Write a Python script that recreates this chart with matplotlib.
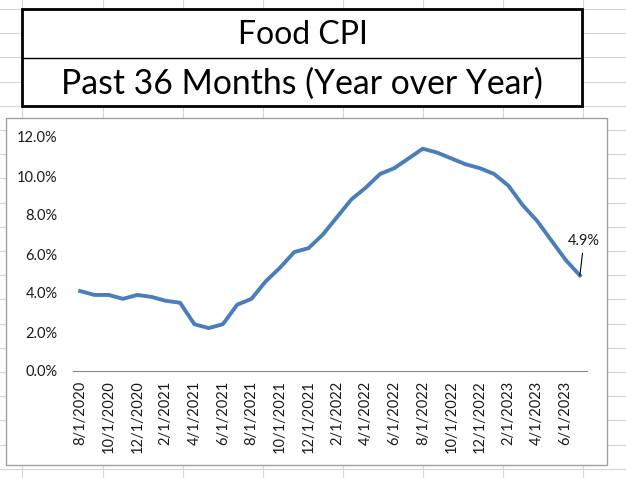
import matplotlib.pyplot as plt
from matplotlib.lines import Line2D
from matplotlib.patches import Rectangle
from matplotlib.ticker import FuncFormatter, MultipleLocator

W, H = 626, 478

months = [
    "8/1/2020", "9/1/2020", "10/1/2020", "11/1/2020", "12/1/2020",
    "1/1/2021", "2/1/2021", "3/1/2021", "4/1/2021", "5/1/2021", "6/1/2021",
    "7/1/2021", "8/1/2021", "9/1/2021", "10/1/2021", "11/1/2021", "12/1/2021",
    "1/1/2022", "2/1/2022", "3/1/2022", "4/1/2022", "5/1/2022", "6/1/2022",
    "7/1/2022", "8/1/2022", "9/1/2022", "10/1/2022", "11/1/2022", "12/1/2022",
    "1/1/2023", "2/1/2023", "3/1/2023", "4/1/2023", "5/1/2023", "6/1/2023",
    "7/1/2023",
]
food_cpi = [
    4.1, 3.9, 3.9, 3.7, 3.9,
    3.8, 3.6, 3.5, 2.4, 2.2, 2.4,
    3.4, 3.7, 4.6, 5.3, 6.1, 6.3,
    7.0, 7.9, 8.8, 9.4, 10.1, 10.4,
    10.9, 11.4, 11.2, 10.9, 10.6, 10.4,
    10.1, 9.5, 8.5, 7.7, 6.7, 5.7,
    4.9,
]
title_1 = "Food CPI"
title_2 = "Past 36 Months (Year over Year)"

FONT = "Lato"


def fx(x):
    return x / W


def fy(y):
    return 1 - y / H


fig = plt.figure(figsize=(W / 100, H / 100), dpi=100)
fig.patch.set_facecolor("white")

# spreadsheet grid behind everything
for x in [22, 103, 183, 263, 343, 423, 503, 583]:
    fig.add_artist(Line2D([fx(x), fx(x)], [0, 1], color="#d6d6d6", lw=0.8, zorder=0))
y = 9.0
while y < H:
    fig.add_artist(Line2D([0, 1], [fy(y), fy(y)], color="#d6d6d6", lw=0.8, zorder=0))
    y += 24.2

# title box (merged cells)
fig.add_artist(Rectangle((fx(22), fy(106)), fx(582) - fx(22), fy(9) - fy(106),
                         facecolor="white", edgecolor="black", lw=2.0, zorder=1))
fig.add_artist(Line2D([fx(22), fx(582)], [fy(57.5), fy(57.5)], color="black", lw=1.0, zorder=2))
fig.text(fx(303), fy(35), title_1, ha="center", va="center", fontsize=23, family=FONT, zorder=3)
fig.text(fx(302), fy(84), title_2, ha="center", va="center", fontsize=24.3, family=FONT, zorder=3)

# chart area
fig.add_artist(Rectangle((fx(6), fy(465)), fx(607) - fx(6), fy(118) - fy(465),
                         facecolor="white", edgecolor="#a0a0a0", lw=1.0, zorder=1))

ax = fig.add_axes([fx(73), fy(371), fx(587) - fx(73), fy(137) - fy(371)], zorder=2)
ax.patch.set_visible(False)
xs = list(range(len(food_cpi)))
ax.plot(xs, food_cpi, color="#4a7ebb", lw=2.8, solid_joinstyle="round")
ax.set_xlim(-0.5, len(food_cpi) - 0.5)
ax.set_ylim(0, 12)
ax.yaxis.set_major_locator(MultipleLocator(2))
ax.yaxis.set_major_formatter(FuncFormatter(lambda v, p: f"{v:.1f}%"))
ax.set_xticks(xs[::2])
ax.set_xticklabels(months[::2], rotation=90, va="top")
for s in ["top", "right", "left"]:
    ax.spines[s].set_visible(False)
ax.spines["bottom"].set_color("#888888")
ax.spines["bottom"].set_linewidth(0.8)
ax.tick_params(axis="y", length=0, pad=11, labelsize=10.5, labelcolor="#1a1a1a")
ax.tick_params(axis="x", length=0, pad=7, labelsize=10.5, labelcolor="#1a1a1a")
for lab in ax.get_xticklabels() + ax.get_yticklabels():
    lab.set_family(FONT)

ax.annotate(f"{food_cpi[-1]:.1f}%", xy=(xs[-1], food_cpi[-1]), xytext=(3, 25),
            textcoords="offset points", ha="center", va="center", fontsize=10.5,
            family=FONT, color="#1a1a1a",
            arrowprops=dict(arrowstyle="-", color="black", lw=0.8, shrinkA=2, shrinkB=0))

fig.savefig("out.png", dpi=100)
